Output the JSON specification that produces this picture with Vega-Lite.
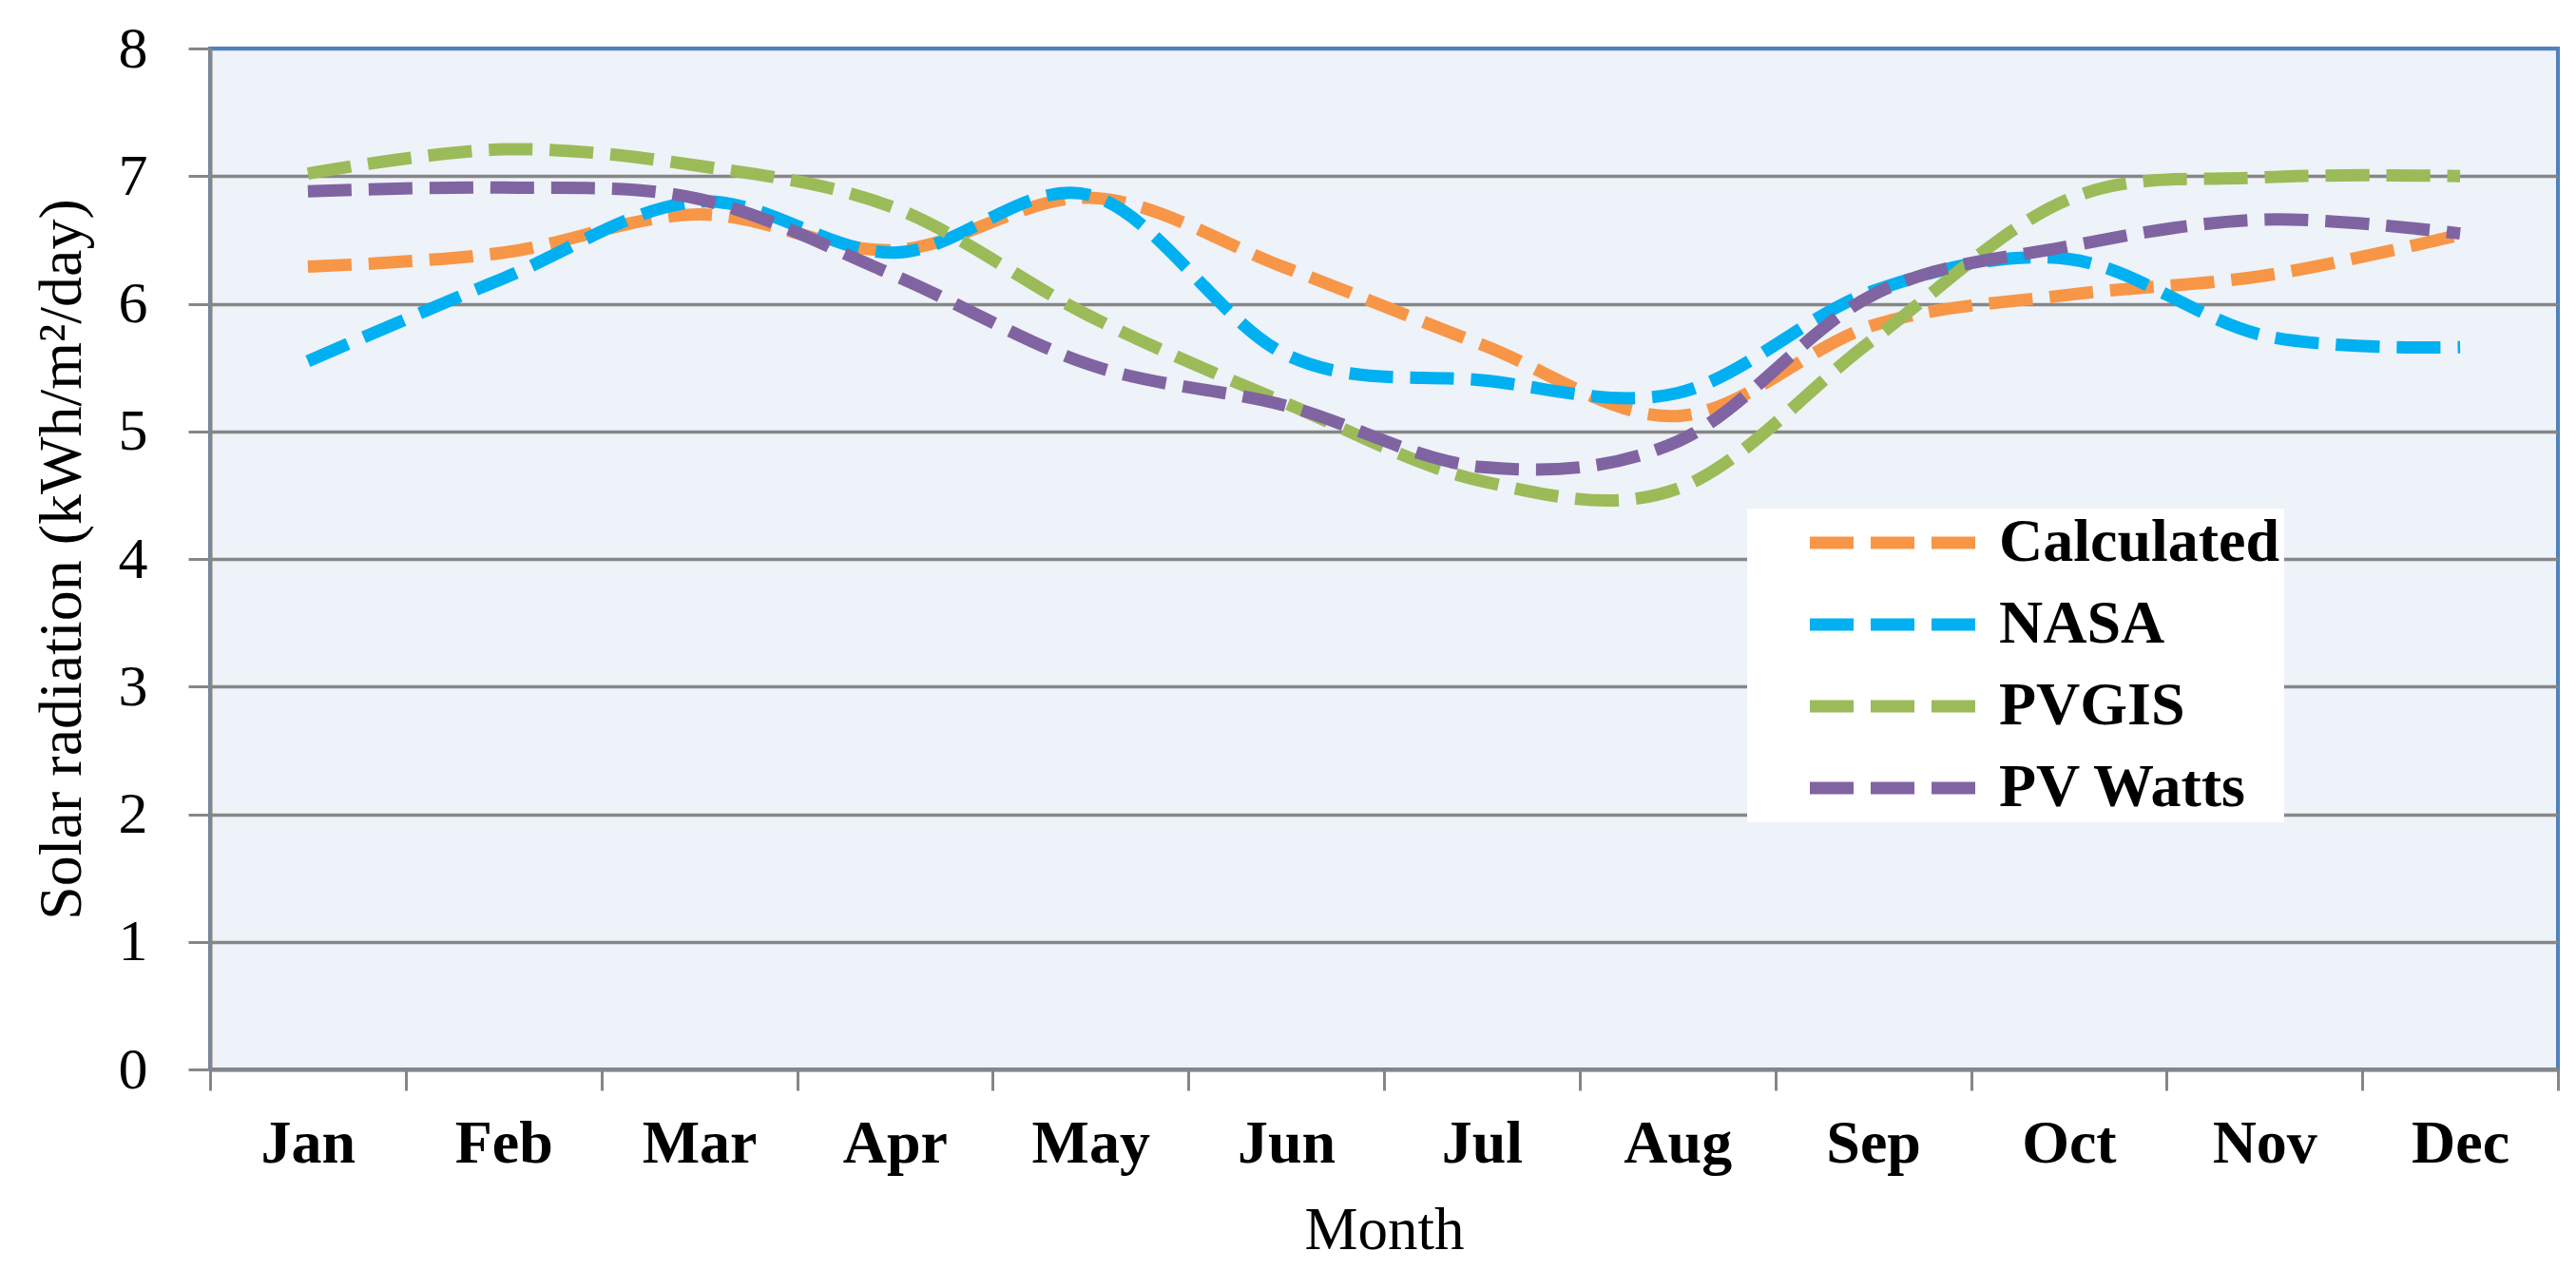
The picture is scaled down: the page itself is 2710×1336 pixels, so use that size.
{
  "$schema": "https://vega.github.io/schema/vega-lite/v6.json",
  "width": 2470,
  "height": 1074,
  "autosize": {"type": "none"},
  "padding": {"left": 221, "top": 51, "right": 19, "bottom": 211},
  "background": "white",
  "config": {
    "view": {"stroke": "#4F81BD", "strokeWidth": 4, "fill": "#eef2f9"},
    "font": "Liberation Serif"
  },
  "data": {
    "values": [
      {"month": "Jan", "series": "Calculated", "value": 6.29},
      {"month": "Feb", "series": "Calculated", "value": 6.40},
      {"month": "Mar", "series": "Calculated", "value": 6.70},
      {"month": "Apr", "series": "Calculated", "value": 6.42},
      {"month": "May", "series": "Calculated", "value": 6.83},
      {"month": "Jun", "series": "Calculated", "value": 6.28},
      {"month": "Jul", "series": "Calculated", "value": 5.68},
      {"month": "Aug", "series": "Calculated", "value": 5.12},
      {"month": "Sep", "series": "Calculated", "value": 5.83},
      {"month": "Oct", "series": "Calculated", "value": 6.07},
      {"month": "Nov", "series": "Calculated", "value": 6.22},
      {"month": "Dec", "series": "Calculated", "value": 6.54},
      {"month": "Jan", "series": "NASA", "value": 5.55},
      {"month": "Feb", "series": "NASA", "value": 6.20},
      {"month": "Mar", "series": "NASA", "value": 6.80},
      {"month": "Apr", "series": "NASA", "value": 6.40},
      {"month": "May", "series": "NASA", "value": 6.85},
      {"month": "Jun", "series": "NASA", "value": 5.60},
      {"month": "Jul", "series": "NASA", "value": 5.40},
      {"month": "Aug", "series": "NASA", "value": 5.30},
      {"month": "Sep", "series": "NASA", "value": 6.10},
      {"month": "Oct", "series": "NASA", "value": 6.35},
      {"month": "Nov", "series": "NASA", "value": 5.75},
      {"month": "Dec", "series": "NASA", "value": 5.66},
      {"month": "Jan", "series": "PVGIS", "value": 7.02},
      {"month": "Feb", "series": "PVGIS", "value": 7.21},
      {"month": "Mar", "series": "PVGIS", "value": 7.08},
      {"month": "Apr", "series": "PVGIS", "value": 6.75},
      {"month": "May", "series": "PVGIS", "value": 5.90},
      {"month": "Jun", "series": "PVGIS", "value": 5.22},
      {"month": "Jul", "series": "PVGIS", "value": 4.61},
      {"month": "Aug", "series": "PVGIS", "value": 4.55},
      {"month": "Sep", "series": "PVGIS", "value": 5.72},
      {"month": "Oct", "series": "PVGIS", "value": 6.82},
      {"month": "Nov", "series": "PVGIS", "value": 6.99},
      {"month": "Dec", "series": "PVGIS", "value": 7.00},
      {"month": "Jan", "series": "PV Watts", "value": 6.88},
      {"month": "Feb", "series": "PV Watts", "value": 6.91},
      {"month": "Mar", "series": "PV Watts", "value": 6.82},
      {"month": "Apr", "series": "PV Watts", "value": 6.22},
      {"month": "May", "series": "PV Watts", "value": 5.52},
      {"month": "Jun", "series": "PV Watts", "value": 5.20},
      {"month": "Jul", "series": "PV Watts", "value": 4.72},
      {"month": "Aug", "series": "PV Watts", "value": 4.92},
      {"month": "Sep", "series": "PV Watts", "value": 6.07},
      {"month": "Oct", "series": "PV Watts", "value": 6.45},
      {"month": "Nov", "series": "PV Watts", "value": 6.66},
      {"month": "Dec", "series": "PV Watts", "value": 6.55}
    ]
  },
  "mark": {
    "type": "line",
    "interpolate": "cardinal",
    "strokeWidth": 13,
    "strokeDash": [46, 18],
    "strokeCap": "butt"
  },
  "encoding": {
    "x": {
      "field": "month",
      "type": "ordinal",
      "sort": ["Jan", "Feb", "Mar", "Apr", "May", "Jun", "Jul", "Aug", "Sep", "Oct", "Nov", "Dec"],
      "scale": {"type": "band", "paddingInner": 0, "paddingOuter": 0},
      "axis": {
        "title": "Month",
        "tickBand": "extent",
        "labelAngle": 0,
        "labelFont": "Liberation Serif",
        "labelFontSize": 64,
        "labelFontWeight": "bold",
        "labelColor": "black",
        "labelBaseline": "alphabetic",
        "labelPadding": 75,
        "tickSize": 22,
        "tickColor": "#868686",
        "tickWidth": 3,
        "domainColor": "#868686",
        "domainWidth": 4,
        "grid": false,
        "titleFont": "Liberation Serif",
        "titleFontSize": 63,
        "titleFontWeight": "normal",
        "titleColor": "black",
        "titlePadding": 28
      }
    },
    "y": {
      "field": "value",
      "type": "quantitative",
      "scale": {"domain": [0, 8]},
      "axis": {
        "title": "Solar radiation (kWh/m²/day)",
        "values": [0, 1, 2, 3, 4, 5, 6, 7, 8],
        "grid": true,
        "gridColor": {"condition": {"test": "datum.value == 8", "value": "#4F81BD"}, "value": "#868686"},
        "gridWidth": 3.5,
        "labelFont": "Liberation Serif",
        "labelFontSize": 62,
        "labelFontWeight": "normal",
        "labelColor": "black",
        "labelPadding": 43,
        "tickSize": 23,
        "tickColor": "#868686",
        "tickWidth": 3,
        "domainColor": "#868686",
        "domainWidth": 4,
        "titleFont": "Liberation Serif",
        "titleFontSize": 64,
        "titleFontWeight": "normal",
        "titleColor": "black",
        "titlePadding": 27
      }
    },
    "color": {
      "field": "series",
      "type": "nominal",
      "scale": {
        "domain": ["Calculated", "NASA", "PVGIS", "PV Watts"],
        "range": ["#F79646", "#00B0F0", "#9BBB59", "#8064A2"]
      },
      "legend": {
        "title": null,
        "orient": "none",
        "legendX": 1617,
        "legendY": 484,
        "fillColor": "white",
        "padding": 4,
        "symbolOffset": 117,
        "symbolType": "M-4,0H4",
        "symbolSize": 1892,
        "symbolStrokeWidth": 13,
        "symbolDash": [46, 18],
        "labelFont": "Liberation Serif",
        "labelFontSize": 64,
        "labelFontWeight": "bold",
        "labelColor": "black",
        "labelOffset": 80,
        "rowPadding": 22,
        "labelLimit": 1000
      }
    }
  }
}
